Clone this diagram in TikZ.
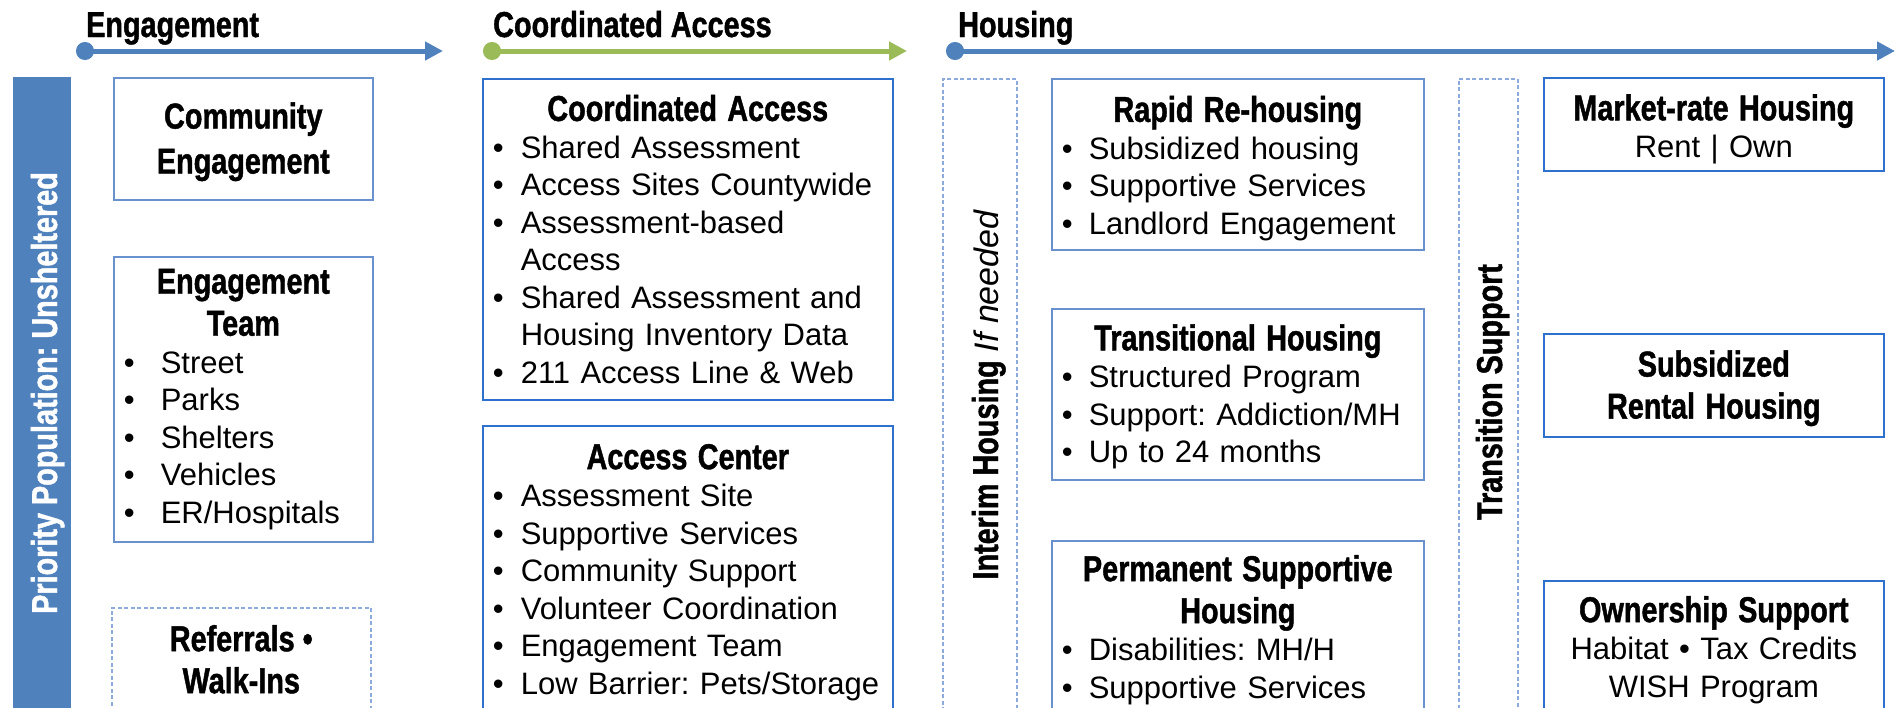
\documentclass[tikz,border=0pt]{standalone}
\usepackage{fontspec}
\setmainfont{Liberation Sans}
\newfontfamily\condfont{Liberation Sans}[FakeStretch=0.8, BoldFeatures={FakeBold=1.2}]
\usetikzlibrary{arrows.meta,positioning}
\frenchspacing
\definecolor{barblue}{RGB}{79,129,189}
\definecolor{leafgreen}{RGB}{155,187,89}
\definecolor{paleblue}{RGB}{105,145,205}
\definecolor{brightblue}{RGB}{45,112,205}
\definecolor{dashblue}{RGB}{140,170,220}

\newcommand{\hd}{\fontsize{36}{42}\condfont\bfseries}
\newcommand{\bd}{\fontsize{31}{37.5}\selectfont}
\newcommand{\itm}[2][28pt]{\par\hangindent=#1\hangafter=1\noindent\makebox[#1][l]{\textbullet}#2}
\newcommand{\ttl}[1]{{\centering\noindent\hd #1\par}}
\newcommand{\nudge}[1]{\par\kern-#1}

\tikzset{
  box/.style={draw=paleblue, line width=1.6pt, inner xsep=10pt, inner ysep=0pt, anchor=north west, align=left, font=\bd},
  brightbox/.style={box, draw=brightblue},
  dashbox/.style={draw=dashblue, line width=1.6pt, dash pattern=on 4pt off 2.5pt, anchor=north west, inner sep=0pt},
  colhead/.style={anchor=base west, font=\hd, inner sep=0pt},
  sidetext/.style={rotate=90, anchor=base, inner sep=0pt, font=\hd},
  flow/.style={line width=5pt, {Circle[length=18pt]}-{Triangle[length=18pt,width=18pt]}}
}

\begin{document}
\begin{tikzpicture}[x=1pt,y=-1pt]
\useasboundingbox (0,0) rectangle (1902,707);
\clip (0,0) rectangle (1902,707);

% phase headings and arrows
\node[colhead] (engH) at (86,37) {Engagement};
\node[colhead] (caH) at (493,37) {Coordinated Access};
\node[colhead] (houH) at (958,37) {Housing};
\coordinate (engA) at (76,51);  \coordinate (engB) at (443,51);
\coordinate (caA) at (483,51);  \coordinate (caB) at (907,51);
\coordinate (houA) at (946,51); \coordinate (houB) at (1895,51);
\draw[flow, barblue] (engA) -- (engB);
\draw[flow, leafgreen] (caA) -- (caB);
\draw[flow, barblue] (houA) -- (houB);

% side bar
\node[fill=barblue, anchor=north west, minimum width=58pt, minimum height=635pt, inner sep=0pt] (prio) at (13,77) {};
\node[sidetext, text=white] (prioT) at (57,393) {Priority Population: Unsheltered};

% Engagement column
\node[box, text width=239pt, minimum height=122pt] (comm) at (113,77) {\ttl{Community\\[3pt]Engagement}\nudge{6pt}};
\node[box, text width=239pt, minimum height=285pt] (team) at (113,256) {\ttl{Engagement\\Team}
  \itm[37pt]{Street}
  \itm[37pt]{Parks}
  \itm[37pt]{Shelters}
  \itm[37pt]{Vehicles}
  \itm[37pt]{ER/Hospitals}};
\node[dashbox, align=center, font=\hd, minimum width=259pt, minimum height=103pt] (walk) at (111,607) {Referrals •\\Walk-Ins};

% Coordinated Access column
\node[brightbox, text width=390pt, minimum height=321pt] (ca) at (482,78) {\ttl{Coordinated Access}
  \itm{Shared Assessment}
  \itm{Access Sites Countywide}
  \itm{Assessment-based\newline Access}
  \itm{Shared Assessment and\newline Housing Inventory Data}
  \itm{211 Access Line \& Web}};
\node[brightbox, text width=390pt, minimum height=293pt] (acc) at (482,425) {\ttl{Access Center}
  \itm{Assessment Site}
  \itm{Supportive Services}
  \itm{Community Support}
  \itm{Volunteer Coordination}
  \itm{Engagement Team}
  \itm{\mbox{Low Barrier: Pets/Storage}}};

% Housing column
\node[dashbox, minimum width=74pt, minimum height=634pt] (interim) at (942,78) {};
\node[sidetext] (interimT) at (998,395) {Interim Housing {\fontsize{34}{40}\normalfont\itshape If needed}};

\node[box, text width=352pt, minimum height=171pt] (rrh) at (1051,78) {\ttl{Rapid Re-housing}
  \itm[27pt]{Subsidized housing}
  \itm[27pt]{Supportive Services}
  \itm[27pt]{Landlord Engagement}\nudge{8pt}};
\node[box, text width=352pt, minimum height=171pt] (th) at (1051,308) {\ttl{Transitional Housing}
  \itm[27pt]{Structured Program}
  \itm[27pt]{Support: Addiction/MH}
  \itm[27pt]{Up to 24 months}\nudge{5pt}};
\node[box, text width=352pt, minimum height=178pt] (psh) at (1051,540) {\ttl{Permanent Supportive\\Housing}
  \itm[27pt]{Disabilities: MH/H}
  \itm[27pt]{Supportive Services}};

\node[dashbox, minimum width=59pt, minimum height=634pt] (trans) at (1458,78) {};
\node[sidetext] (transT) at (1502,392) {Transition Support};

\node[brightbox, align=center, text width=320pt, minimum height=93pt] (mkt) at (1543,77) {\ttl{Market-rate Housing}Rent | Own\nudge{10pt}};
\node[brightbox, align=center, text width=320pt, minimum height=103pt] (sub) at (1543,333) {\ttl{Subsidized\\Rental Housing}\nudge{6pt}};
\node[brightbox, align=center, text width=320pt, minimum height=138pt] (own) at (1543,580) {\ttl{Ownership Support}Habitat • Tax Credits\\WISH Program};

\end{tikzpicture}
\end{document}
